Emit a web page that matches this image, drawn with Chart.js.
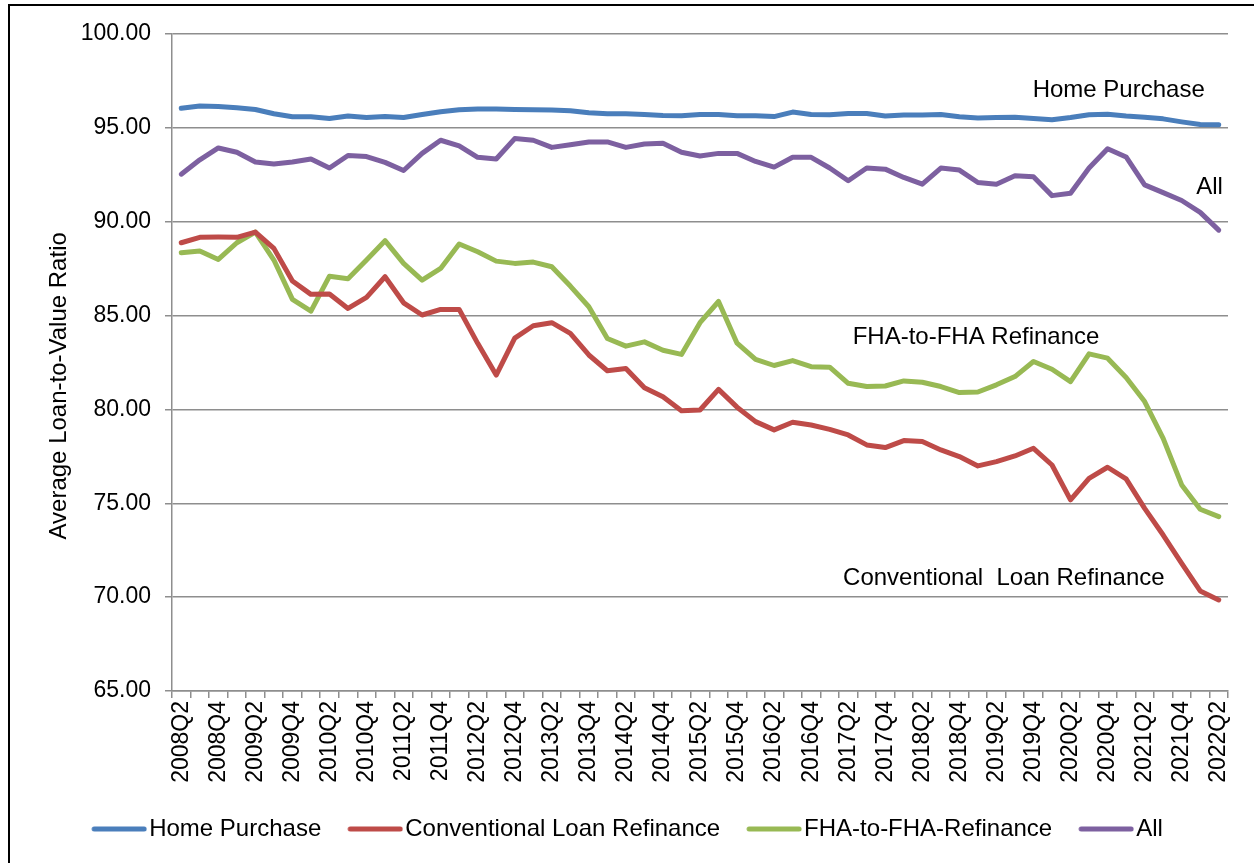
<!DOCTYPE html>
<html>
<head>
<meta charset="utf-8">
<script src="https://cdn.jsdelivr.net/npm/chart.js@4/dist/chart.umd.min.js"></script>
<style>
  body { margin: 0; background: #fff; }
  #wrap { position: relative; width: 1254px; height: 863px; }
  #frame { position: absolute; left: 8px; top: 4px; right: -4px; bottom: -4px; border-left: 2px solid #000; border-top: 2px solid #000; pointer-events: none; }
</style>
</head>
<body>
<div id="wrap">
  <canvas id="ltvChart" width="1254" height="863"></canvas>
  <div id="frame"></div>
</div>
<script>
// Quarters shown on the category axis
const quarters = [
  '2008Q2','2008Q3','2008Q4','2009Q1','2009Q2','2009Q3','2009Q4','2010Q1','2010Q2','2010Q3',
  '2010Q4','2011Q1','2011Q2','2011Q3','2011Q4','2012Q1','2012Q2','2012Q3','2012Q4','2013Q1',
  '2013Q2','2013Q3','2013Q4','2014Q1','2014Q2','2014Q3','2014Q4','2015Q1','2015Q2','2015Q3',
  '2015Q4','2016Q1','2016Q2','2016Q3','2016Q4','2017Q1','2017Q2','2017Q3','2017Q4','2018Q1',
  '2018Q2','2018Q3','2018Q4','2019Q1','2019Q2','2019Q3','2019Q4','2020Q1','2020Q2','2020Q3',
  '2020Q4','2021Q1','2021Q2','2021Q3','2021Q4','2022Q1','2022Q2'
];

// Average loan-to-value ratio per series
const homePurchase = [
  96.04, 96.16, 96.14, 96.07, 95.98, 95.75, 95.59, 95.59, 95.50, 95.63,
  95.55, 95.61, 95.55, 95.71, 95.86, 95.96, 96.00, 96.00, 95.98, 95.96,
  95.95, 95.91, 95.80, 95.75, 95.75, 95.71, 95.66, 95.64, 95.71, 95.71,
  95.64, 95.64, 95.60, 95.84, 95.71, 95.70, 95.77, 95.76, 95.63, 95.68,
  95.69, 95.71, 95.59, 95.52, 95.55, 95.56, 95.50, 95.43, 95.55, 95.70,
  95.73, 95.63, 95.57, 95.48, 95.32, 95.18, 95.16
];
const conventionalRefi = [
  88.88, 89.17, 89.18, 89.17, 89.45, 88.58, 86.84, 86.13, 86.15, 85.38,
  85.97, 87.07, 85.68, 85.03, 85.33, 85.33, 83.52, 81.83, 83.80, 84.46,
  84.62, 84.05, 82.90, 82.06, 82.18, 81.15, 80.67, 79.93, 79.97, 81.07,
  80.12, 79.35, 78.91, 79.32, 79.17, 78.94, 78.64, 78.11, 77.97, 78.34,
  78.29, 77.84, 77.49, 76.99, 77.22, 77.52, 77.93, 77.04, 75.18, 76.33,
  76.92, 76.30, 74.73, 73.31, 71.80, 70.33, 69.85
];
const fhaRefi = [
  88.35, 88.44, 87.99, 88.88, 89.45, 87.96, 85.86, 85.24, 87.10, 86.96,
  87.96, 88.99, 87.78, 86.89, 87.51, 88.81, 88.40, 87.90, 87.78, 87.85,
  87.60, 86.57, 85.47, 83.78, 83.37, 83.60, 83.15, 82.93, 84.62, 85.75,
  83.53, 82.67, 82.34, 82.60, 82.28, 82.25, 81.39, 81.22, 81.25, 81.52,
  81.45, 81.22, 80.90, 80.93, 81.31, 81.75, 82.55, 82.14, 81.48, 82.96,
  82.73, 81.70, 80.42, 78.46, 75.98, 74.68, 74.29
];
const allLoans = [
  92.53, 93.30, 93.93, 93.70, 93.18, 93.07, 93.18, 93.34, 92.86, 93.53,
  93.47, 93.16, 92.73, 93.64, 94.34, 94.04, 93.43, 93.34, 94.43, 94.34,
  93.96, 94.10, 94.25, 94.25, 93.96, 94.14, 94.18, 93.70, 93.50, 93.64,
  93.64, 93.21, 92.91, 93.43, 93.43, 92.86, 92.18, 92.86, 92.80, 92.36,
  92.00, 92.86, 92.75, 92.09, 92.00, 92.45, 92.39, 91.39, 91.52, 92.86,
  93.89, 93.45, 91.96, 91.55, 91.13, 90.50, 89.55
];

const seriesNames = ['Home Purchase', 'Conventional Loan Refinance', 'FHA-to-FHA-Refinance', 'All'];
const seriesColors = ['#4a7ebb', '#be4b48', '#98b954', '#7d60a0'];

// In-chart labels, placed in data coordinates (category index, value)
const callouts = [
  { text: 'Home Purchase', x: 50.6, y: 97.0 },
  { text: 'All', x: 55.5, y: 91.85 },
  { text: 'FHA-to-FHA Refinance', x: 42.9, y: 83.86 },
  { text: 'Conventional  Loan Refinance', x: 44.4, y: 71.0 }
];

const FONT = '"Liberation Sans", Arial, sans-serif';

// legend sample: a thick rounded line sitting at the right of a wider image,
// so it ends right before the label text like the original
const legendSwatch = (color) => {
  const c = document.createElement('canvas');
  c.width = 82;
  c.height = 10;
  const g = c.getContext('2d');
  g.strokeStyle = color;
  g.lineWidth = 5;
  g.lineCap = 'round';
  g.beginPath();
  g.moveTo(29, 5);
  g.lineTo(79, 5);
  g.stroke();
  return c;
};

const calloutPlugin = {
  id: 'callouts',
  afterDatasetsDraw(chart) {
    const { ctx, scales } = chart;
    ctx.save();
    ctx.font = '24px ' + FONT;
    ctx.fillStyle = '#000';
    ctx.textAlign = 'center';
    ctx.textBaseline = 'middle';
    callouts.forEach(c => {
      ctx.fillText(c.text, scales.x.getPixelForValue(c.x), scales.y.getPixelForValue(c.y));
    });
    ctx.restore();
  }
};

const datasets = [homePurchase, conventionalRefi, fhaRefi, allLoans].map((vals, i) => ({
  label: seriesNames[i],
  data: vals,
  borderColor: seriesColors[i],
  backgroundColor: seriesColors[i],
  borderWidth: 5,
  borderCapStyle: 'round',
  borderJoinStyle: 'round',
  pointStyle: legendSwatch(seriesColors[i]),
  pointRadius: 0,
  pointHoverRadius: 0,
  tension: 0,
  fill: false
}));

new Chart(document.getElementById('ltvChart').getContext('2d'), {
  type: 'line',
  data: { labels: quarters, datasets: datasets },
  plugins: [calloutPlugin],
  options: {
    responsive: false,
    animation: false,
    layout: { padding: { left: 10, right: 26, top: 34, bottom: 12 } },
    plugins: {
      tooltip: { enabled: false },
      legend: {
        position: 'bottom',
        labels: {
          usePointStyle: true,
          pointStyleWidth: 62,
          boxHeight: 5,
          padding: 10,
          color: '#000',
          font: { family: FONT, size: 24 }
        }
      }
    },
    scales: {
      x: {
        type: 'category',
        offset: true,
        afterFit(scale) { scale.height = 116; },
        grid: { display: true, drawOnChartArea: false, offset: true, drawTicks: true, tickLength: 7, color: '#8e8e8e', lineWidth: 1.5 },
        border: { display: true, color: '#8e8e8e', width: 1.5 },
        ticks: {
          autoSkip: false,
          minRotation: 90,
          maxRotation: 90,
          padding: 3,
          color: '#000',
          font: { family: FONT, size: 23 },
          callback: function (value, index) { return index % 2 === 0 ? this.getLabelForValue(value) : ''; }
        }
      },
      y: {
        min: 65,
        max: 100,
        afterFit(scale) { scale.width = 162; },
        grid: { color: '#8e8e8e', lineWidth: 1.5, tickLength: 7 },
        border: { display: true, color: '#8e8e8e', width: 1.5 },
        ticks: {
          stepSize: 5,
          padding: 14,
          color: '#000',
          font: { family: FONT, size: 23 },
          callback: v => v.toFixed(2)
        },
        title: {
          display: true,
          text: 'Average Loan-to-Value Ratio       ',
          color: '#000',
          font: { family: FONT, size: 24 },
          padding: { top: 35, bottom: 0 }
        }
      }
    }
  }
});
</script>
</body>
</html>
